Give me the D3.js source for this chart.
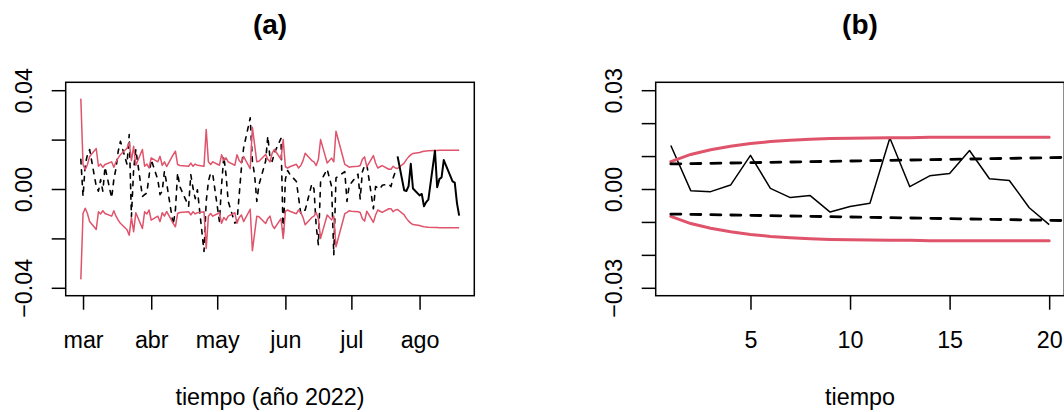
<!DOCTYPE html>
<html>
<head>
<meta charset="utf-8">
<script src="https://cdn.jsdelivr.net/npm/d3@7"></script>
<style>
  html, body { margin: 0; padding: 0; background: #fff; }
  svg { display: block; font-family: "Liberation Sans", Arial, Helvetica, sans-serif; }
</style>
</head>
<body>
<svg id="chart" width="1064" height="412"></svg>
<script>
// ---- data -------------------------------------------------------------
const firstDay = "2022-02-28";
const lastDay = "2022-08-19";
const marketHolidays = ["2022-04-15", "2022-06-21", "2022-06-27", "2022-08-15"];

const monthTicks = ["2022-03-01", "2022-04-01", "2022-05-01", "2022-06-01", "2022-07-01", "2022-08-01"];
const monthLabels = ["mar", "abr", "may", "jun", "jul", "ago"];

// daily returns of the fitting period
const trainReturns = [
  0.0120, -0.0030, 0.0099, 0.0139, 0.0160,
  0.0011, -0.0009, 0.0038, -0.0009, 0.0089,
  -0.0036, 0.0038, 0.0085, 0.0153, 0.0193,
  0.0100, 0.0220, -0.0111, 0.0078, 0.0160,
  -0.0030, -0.0023, -0.0016, 0.0051, 0.0119,
  0.0038, -0.0023, -0.0009, 0.0072, 0.0024,
  -0.0145, -0.0084, 0.0065, 0.0010,
  -0.0070, 0.0058, 0.0004, -0.0039, -0.0003,
  -0.0253, -0.0050, 0.0031, 0.0065, 0.0058,
  -0.0131, 0.0018, 0.0132, 0.0058, -0.0050,
  -0.0138, -0.0131, -0.0023, 0.0085, 0.0166,
  0.0288, 0.0112, 0.0058, -0.0050, 0.0018,
  0.0112, 0.0214, 0.0126, 0.0112, 0.0146,
  0.0205, -0.0192, 0.0040, 0.0075, 0.0060,
  0.0030, -0.0035, -0.0100, -0.0090, -0.0085,
  0.0020, 0.0000, -0.0150, -0.0226, 0.0030,
  0.0080, 0.0010, -0.0266, 0.0045,
  0.0070, -0.0050, 0.0015, 0.0025,
  0.0060, -0.0040, 0.0070, 0.0095, 0.0100,
  -0.0080, 0.0010, 0.0005, 0.0000, 0.0015,
  0.0020, 0.0010, 0.0045, 0.0070
];

// half-width of the conditional band over the fitting period
const trainBand = [
  0.0366, 0.0099, 0.0078, 0.0099, 0.0132,
  0.0164, 0.0092, 0.0101, 0.0088, 0.0099,
  0.0110, 0.0088, 0.0110, 0.0126, 0.0139,
  0.0165, 0.0187, 0.0115, 0.0173, 0.0096,
  0.0160, 0.0092, 0.0101, 0.0085, 0.0126,
  0.0110, 0.0132, 0.0096, 0.0110, 0.0091,
  0.0139, 0.0153, 0.0099, 0.0095,
  0.0092, 0.0105, 0.0092, 0.0101, 0.0096,
  0.0092, 0.0241, 0.0110, 0.0099, 0.0110,
  0.0096, 0.0139, 0.0115, 0.0126, 0.0110,
  0.0096, 0.0139, 0.0115, 0.0105, 0.0132,
  0.0082, 0.0250, 0.0180, 0.0110, 0.0112,
  0.0140, 0.0120, 0.0110, 0.0145, 0.0160,
  0.0120, 0.0200, 0.0090, 0.0085, 0.0090,
  0.0100, 0.0085, 0.0095, 0.0115, 0.0145,
  0.0115, 0.0110, 0.0095, 0.0120, 0.0200,
  0.0105, 0.0125, 0.0110, 0.0234,
  0.0100, 0.0095, 0.0088, 0.0090,
  0.0092, 0.0095, 0.0120, 0.0130, 0.0090,
  0.0135, 0.0105, 0.0085, 0.0090, 0.0095,
  0.0080, 0.0080, 0.0092, 0.0085
];

// held-out returns and the forecast band for the same 20 days
const testReturns = [
  0.0132, -0.0005, -0.0008, 0.0012, 0.0102,
  0.0002, -0.0026, -0.0020, -0.0070, -0.0053,
  -0.0043, 0.0155, 0.0007, 0.0040, 0.0047,
  0.0117, 0.0031, 0.0026, -0.0057, -0.0108
];
const forecastBand = [
  0.0083, 0.0105, 0.0119, 0.0130, 0.0138,
  0.0144, 0.0148, 0.0151, 0.0153, 0.0154,
  0.0155, 0.0156, 0.0156, 0.0157, 0.0157,
  0.0157, 0.0157, 0.0157, 0.0157, 0.0157
];

// forecast steps and the alternative (dashed) band
const steps = [1, 2, 3, 4, 5, 6, 7, 8, 9, 10, 11, 12, 13, 14, 15, 16, 17, 18, 19, 20];
const altSteps = [1, 2, 3, 4, 5, 6, 7, 8, 9, 10, 11, 12, 13, 14, 15, 16, 17, 18, 19, 20, 21, 22];
const altBand = [
  0.0076, 0.0077, 0.0078, 0.0079, 0.0080, 0.0081, 0.0082, 0.0083,
  0.0084, 0.0085, 0.0086, 0.0087, 0.0088, 0.0089, 0.0090, 0.0091,
  0.0092, 0.0093, 0.0094, 0.0095, 0.0096, 0.0097
];

const yTicksA = [-0.04, -0.02, 0, 0.02, 0.04];
const yLabelsA = [-0.04, 0, 0.04];
const yTicksB = [-0.03, -0.02, -0.01, 0, 0.01, 0.02, 0.03];
const yLabelsB = [-0.03, 0, 0.03];
const xTicksB = [5, 10, 15, 20];

// ---- layout -----------------------------------------------------------
const RED = "#DF536B";
const FONT = 23.3;
const plotTop = 82.3, plotBottom = 295.7;
const panelA = { left: 65.7, right: 474.3 };
const panelB = { left: 655.7, right: 1064.3 };

const svg = d3.select("#chart");
const defs = svg.append("defs");

const parse = d3.utcParse("%Y-%m-%d");
const fmtDay = d3.utcFormat("%Y-%m-%d");
const tradingDays = d3.utcDays(parse(firstDay), d3.utcDay.offset(parse(lastDay), 1))
  .filter(d => d.getUTCDay() % 6 !== 0 && !marketHolidays.includes(fmtDay(d)));
const trainDates = tradingDays.slice(0, trainReturns.length);
const testDates = tradingDays.slice(trainReturns.length, trainReturns.length + testReturns.length);
const allDates = trainDates.concat(testDates);
const allBand = trainBand.concat(forecastBand);

const num = d3.format(".2f");

function clipFor(id, p) {
  defs.append("clipPath").attr("id", id)
    .append("rect")
    .attr("x", p.left).attr("y", plotTop)
    .attr("width", p.right - p.left).attr("height", plotBottom - plotTop);
}
clipFor("clipA", panelA);
clipFor("clipB", panelB);

function styleAxis(g) {
  g.select(".domain").remove();
  g.selectAll(".tick line").attr("stroke", "#000").attr("stroke-width", 1.5);
  g.selectAll("text").attr("fill", "#000").style("font-size", FONT + "px")
    .style("font-family", "'Liberation Sans', Arial, Helvetica, sans-serif");
}

function leftAxis(p, y, ticks, labels) {
  const g = svg.append("g").attr("transform", `translate(${p.left},0)`)
    .call(d3.axisLeft(y).tickValues(ticks).tickSize(14)
      .tickFormat(d => labels.includes(d) ? num(d) : ""));
  styleAxis(g);
  g.selectAll("text")
    .attr("x", null).attr("dy", null)
    .attr("text-anchor", "middle")
    .attr("transform", "translate(-33.7,0) rotate(-90)");
}

function bottomAxis(p, x, ticks, fmt) {
  const g = svg.append("g").attr("transform", `translate(0,${plotBottom})`)
    .call(d3.axisBottom(x).tickValues(ticks).tickSize(14).tickPadding(22).tickFormat(fmt));
  styleAxis(g);
}

function frame(p, title, xlab) {
  svg.append("rect")
    .attr("x", p.left).attr("y", plotTop)
    .attr("width", p.right - p.left).attr("height", plotBottom - plotTop)
    .attr("fill", "none").attr("stroke", "#000").attr("stroke-width", 1.5);
  const cx = (p.left + p.right) / 2;
  svg.append("text").attr("x", cx).attr("y", 34)
    .attr("text-anchor", "middle").attr("font-weight", "bold")
    .style("font-size", "28px").text(title);
  svg.append("text").attr("x", cx).attr("y", 404.5)
    .attr("text-anchor", "middle").style("font-size", FONT + "px").text(xlab);
}

// ---- panel (a): returns with conditional band over time -------------
{
  const t0 = parse(firstDay), t1 = parse(lastDay);
  const padT = (t1 - t0) * 0.04;
  const x = d3.scaleUtc()
    .domain([new Date(+t0 - padT), new Date(+t1 + padT)])
    .range([panelA.left, panelA.right]);
  const ylim = [-0.04, 0.04];
  const padY = (ylim[1] - ylim[0]) * 0.04;
  const y = d3.scaleLinear().domain([ylim[0] - padY, ylim[1] + padY]).range([plotBottom, plotTop]);

  const plot = svg.append("g").attr("clip-path", "url(#clipA)");
  const line = d3.line().x(d => x(d[0])).y(d => y(d[1]));

  plot.append("path")
    .datum(trainDates.map((d, i) => [d, trainReturns[i]]))
    .attr("d", line).attr("fill", "none")
    .attr("stroke", "#000").attr("stroke-width", 1.6)
    .attr("stroke-dasharray", "4.5,6").attr("stroke-linecap", "round")
    .attr("stroke-linejoin", "round");

  [1, -1].forEach(sign => {
    plot.append("path")
      .datum(allDates.map((d, i) => [d, sign * allBand[i]]))
      .attr("d", line).attr("fill", "none")
      .attr("stroke", RED).attr("stroke-width", 1.5)
      .attr("stroke-linejoin", "round");
  });

  plot.append("path")
    .datum(testDates.map((d, i) => [d, testReturns[i]]))
    .attr("d", line).attr("fill", "none")
    .attr("stroke", "#000").attr("stroke-width", 2)
    .attr("stroke-linejoin", "round");

  bottomAxis(panelA, x, monthTicks.map(parse), (d, i) => monthLabels[i]);
  leftAxis(panelA, y, yTicksA, yLabelsA);
  frame(panelA, "(a)", "tiempo (año 2022)");
}

// ---- panel (b): 20-step forecast against held-out returns ------------
{
  const xlim = [1, 20];
  const padX = (xlim[1] - xlim[0]) * 0.04;
  const x = d3.scaleLinear().domain([xlim[0] - padX, xlim[1] + padX]).range([panelB.left, panelB.right]);
  const ylim = [-0.03, 0.03];
  const padY = (ylim[1] - ylim[0]) * 0.04;
  const y = d3.scaleLinear().domain([ylim[0] - padY, ylim[1] + padY]).range([plotBottom, plotTop]);

  const plot = svg.append("g").attr("clip-path", "url(#clipB)");
  const line = d3.line().x(d => x(d[0])).y(d => y(d[1]));

  plot.append("path")
    .datum(steps.map((s, i) => [s, testReturns[i]]))
    .attr("d", line).attr("fill", "none")
    .attr("stroke", "#000").attr("stroke-width", 1.5)
    .attr("stroke-linejoin", "round");

  [1, -1].forEach(sign => {
    plot.append("path")
      .datum(steps.map((s, i) => [s, sign * forecastBand[i]]))
      .attr("d", line).attr("fill", "none")
      .attr("stroke", RED).attr("stroke-width", 3)
      .attr("stroke-linecap", "round");
  });

  [1, -1].forEach(sign => {
    plot.append("path")
      .datum(altSteps.map((s, i) => [s, sign * altBand[i]]))
      .attr("d", line).attr("fill", "none")
      .attr("stroke", "#000").attr("stroke-width", 2.8)
      .attr("stroke-dasharray", "10,10").attr("stroke-linecap", "round");
  });

  bottomAxis(panelB, x, xTicksB, d3.format("d"));
  leftAxis(panelB, y, yTicksB, yLabelsB);
  frame(panelB, "(b)", "tiempo");
}
</script>
</body>
</html>
